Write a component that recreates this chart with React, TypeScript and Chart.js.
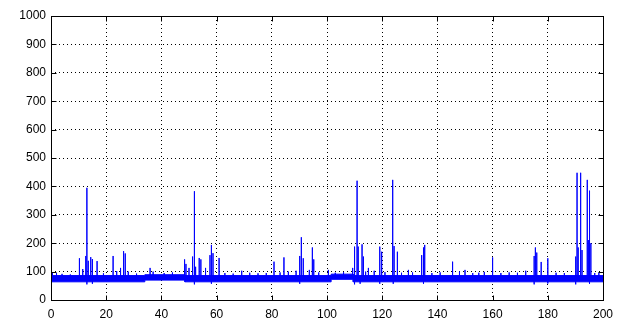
import React, { useEffect, useRef } from "react";
import { Chart, registerables } from "chart.js";

Chart.register(...registerables);

// Axis ranges and ticks
const X_MIN = 0;
const X_MAX = 200;
const X_STEP = 20;
const Y_MIN = 0;
const Y_MAX = 1000;
const Y_STEP = 100;

// Baseline noise band (envelope)
const bandX = [0, 34, 34, 48.5, 48.5, 101.5, 101.5, 109.5, 109.5, 200];
const bandUpper = [86, 86, 89, 89, 86, 86, 91, 91, 86, 86];
const bandLower = [64, 64, 70, 70, 64, 64, 73, 73, 64, 64];
const BASE = 75;

// Spikes: x position and peak value
const spikeX = [
  10.3, 11.5, 12.6, 13.0, 13.5, 14.4, 15.0, 16.7, 22.5, 23.8, 25.2, 26.3, 26.9,
  35.9, 48.4, 48.9, 50.0, 51.3, 51.9, 52.4, 53.7, 54.3, 56.0, 57.6, 58.2, 58.7,
  60.9, 69.1, 80.8, 84.4, 88.8, 90.2, 90.7, 91.4, 93.6, 94.7, 95.2, 100.5,
  109.3, 109.8, 110.1, 110.9, 111.3, 112.7, 113.2, 115.0, 117.1, 119.2, 119.8,
  123.8, 124.3, 125.5, 129.5, 134.3, 134.9, 135.4, 145.5, 150.0, 152.8, 160.0,
  172.0, 175.1, 175.5, 176.0, 177.6, 180.0, 190.2, 190.6, 191.0, 191.9, 192.4,
  194.3, 194.7, 195.2, 195.6,
];
const spikeY = [
  147, 109, 155, 395, 138, 151, 144, 137, 155, 102, 113, 172, 164,
  113, 143, 127, 113, 153, 383, 117, 148, 143, 113, 158, 194, 165,
  148, 103, 135, 150, 103, 155, 221, 147, 106, 185, 143, 106,
  113, 137, 188, 420, 188, 196, 153, 113, 103, 188, 170,
  423, 190, 170, 106, 158, 185, 194, 135, 106, 95, 150,
  103, 155, 185, 167, 134, 147, 153, 448, 185, 448, 176,
  423, 211, 385, 200,
];

// Small bumps above the band
const minorX = [
  0.5, 2, 4, 7, 19, 28, 31, 37, 41, 44, 63, 66, 72, 75, 78, 83, 86, 97, 103,
  106, 114, 121, 127, 131, 138, 141, 148, 155, 157, 163, 166, 169, 183, 186,
  197, 198.5,
];
const minorY = [
  98, 95, 92, 90, 94, 100, 93, 100, 95, 97, 95, 93, 96, 94, 95, 97, 100, 97, 96,
  98, 100, 98, 96, 97, 95, 97, 100, 96, 99, 95, 97, 96, 96, 95,
  95, 96,
];

// Dips below the band
const dipX = [13, 15, 52, 58, 90, 110, 112, 119, 124, 135, 175, 180, 190, 195];
const dipY = [55, 57, 55, 57, 57, 55, 57, 57, 57, 57, 55, 58, 55, 57];

const BLUE = "#0000FF";
const FONT = "'Liberation Sans', Arial, Helvetica, sans-serif";

function buildSpikes() {
  const all: [number, number][] = [];
  spikeX.forEach((x, i) => all.push([x, spikeY[i]]));
  minorX.forEach((x, i) => all.push([x, minorY[i]]));
  dipX.forEach((x, i) => all.push([x, dipY[i]]));
  all.sort((a, b) => a[0] - b[0]);
  const pts: { x: number; y: number }[] = [];
  all.forEach(([x, y]) => {
    pts.push({ x, y: BASE });
    pts.push({ x, y });
    pts.push({ x, y: BASE });
  });
  return pts;
}

const boxPlugin = {
  id: "matlabBox",
  afterDraw(chart: any) {
    const { ctx, chartArea } = chart;
    const { left, right, top, bottom } = chartArea;
    const xs = chart.scales.x;
    const ys = chart.scales.y;
    ctx.save();
    ctx.strokeStyle = "#000";
    ctx.lineWidth = 1;
    ctx.setLineDash([]);
    const L = Math.round(left) + 0.5;
    const R = Math.round(right) + 0.5;
    const T = Math.round(top) + 0.5;
    const B = Math.round(bottom) + 0.5;
    ctx.strokeRect(L, T, R - L, B - T);
    const len = 5;
    ctx.beginPath();
    xs.ticks.forEach((t: any) => {
      const px = Math.round(xs.getPixelForValue(t.value)) + 0.5;
      ctx.moveTo(px, B);
      ctx.lineTo(px, B - len);
      ctx.moveTo(px, T);
      ctx.lineTo(px, T + len);
    });
    ys.ticks.forEach((t: any) => {
      const py = Math.round(ys.getPixelForValue(t.value)) + 0.5;
      ctx.moveTo(L, py);
      ctx.lineTo(L + len, py);
      ctx.moveTo(R, py);
      ctx.lineTo(R - len, py);
    });
    ctx.stroke();
    ctx.restore();
  },
};

export default function App() {
  const ref = useRef<HTMLCanvasElement | null>(null);

  useEffect(() => {
    document.body.style.margin = "0";
    const canvas = ref.current;
    if (!canvas) return;
    const upper = bandX.map((x, i) => ({ x, y: bandUpper[i] }));
    const lower = bandX.map((x, i) => ({ x, y: bandLower[i] }));
    const chart = new Chart(canvas, {
      type: "scatter",
      data: {
        datasets: [
          {
            data: upper,
            showLine: true,
            borderColor: BLUE,
            borderWidth: 1,
            backgroundColor: BLUE,
            pointRadius: 0,
            fill: "+1",
            tension: 0,
          },
          {
            data: lower,
            showLine: true,
            borderColor: BLUE,
            borderWidth: 1,
            backgroundColor: BLUE,
            pointRadius: 0,
            fill: false,
            tension: 0,
          },
          {
            data: buildSpikes(),
            showLine: true,
            borderColor: BLUE,
            borderWidth: 1,
            pointRadius: 0,
            fill: false,
            tension: 0,
          },
        ],
      },
      options: {
        responsive: false,
        animation: false,
        events: [],
        layout: { padding: { left: 0, right: 22, top: 16, bottom: 0 } },
        plugins: {
          legend: { display: false },
          tooltip: { enabled: false },
        },
        scales: {
          x: {
            type: "linear",
            min: X_MIN,
            max: X_MAX,
            ticks: {
              stepSize: X_STEP,
              color: "#000",
              font: { family: FONT, size: 12 },
              padding: 7,
              maxRotation: 0,
              callback: (v: any) => String(v),
            },
            grid: { color: "#000", lineWidth: 1, drawTicks: false },
            border: { display: false, dash: [1, 3] },
            afterFit: (s: any) => {
              s.height = 21;
            },
          },
          y: {
            type: "linear",
            min: Y_MIN,
            max: Y_MAX,
            ticks: {
              stepSize: Y_STEP,
              color: "#000",
              font: { family: FONT, size: 12 },
              padding: 5,
              callback: (v: any) => String(v),
            },
            grid: { color: "#000", lineWidth: 1, drawTicks: false },
            border: { display: false, dash: [1, 3] },
            afterFit: (s: any) => {
              s.width = 51;
            },
          },
        },
      },
      plugins: [boxPlugin],
    });
    return () => chart.destroy();
  }, []);

  return (
    <canvas
      ref={ref}
      width={625}
      height={321}
      style={{ display: "block", width: 625, height: 321 }}
    />
  );
}
